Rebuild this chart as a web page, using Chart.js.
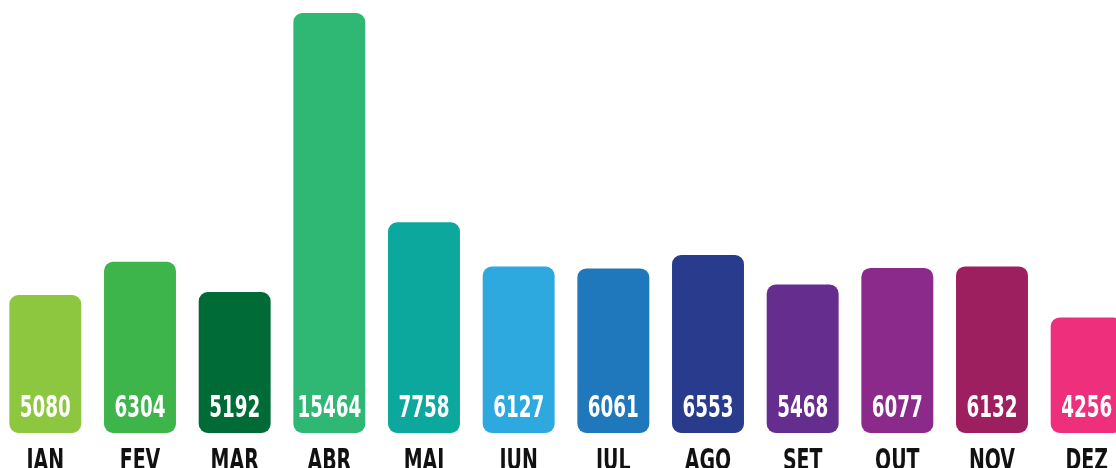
<!DOCTYPE html>
<html>
<head>
<meta charset="utf-8">
<script src="https://cdn.jsdelivr.net/npm/chart.js@4/dist/chart.umd.min.js"></script>
<style>
  html, body { margin: 0; padding: 0; background: #fff; overflow: hidden; }
  #wrap { position: absolute; left: -2px; top: 0; width: 1136px; height: 468px; }
</style>
</head>
<body>
<div id="wrap"><canvas id="chart"></canvas></div>
<script>
const months = ['JAN', 'FEV', 'MAR', 'ABR', 'MAI', 'JUN', 'JUL', 'AGO', 'SET', 'OUT', 'NOV', 'DEZ']
const values = [5080, 6304, 5192, 15464, 7758, 6127, 6061, 6553, 5468, 6077, 6132, 4256]
const colors = ['#8DC63F', '#3DB54A', '#006B37', '#2FB774', '#0DA89D', '#2EA9DF',
                '#1F77BC', '#283B8C', '#652D8E', '#8C2A8C', '#9E1F5F', '#EE307C']

const FONT = '"DejaVu Sans Condensed", "DejaVu Sans", sans-serif'

// squeezed text, the original uses a narrow display face
function narrowText(ctx, txt, x, y, sx) {
  ctx.save()
  ctx.translate(x, y)
  ctx.scale(sx, 1)
  ctx.fillText(txt, 0, 0)
  ctx.restore()
}

// value in white near the foot of each bar + month under it
const barText = {
  id: 'barText',
  afterDatasetsDraw(chart) {
    const { ctx, scales: { y } } = chart
    const base = y.getPixelForValue(0)
    ctx.save()
    ctx.textAlign = 'center'
    ctx.textBaseline = 'alphabetic'
    chart.getDatasetMeta(0).data.forEach((bar, i) => {
      ctx.font = 'bold 30px ' + FONT
      ctx.fillStyle = '#fff'
      narrowText(ctx, String(values[i]), bar.x, base - 16, 0.68)
      ctx.font = 'bold 31px ' + FONT
      ctx.fillStyle = '#111'
      narrowText(ctx, chart.data.labels[i], bar.x, base + 37, 0.68)
    })
    ctx.restore()
  }
}

new Chart(document.getElementById('chart'), {
  type: 'bar',
  data: {
    labels: months,
    datasets: [{ data: values, backgroundColor: colors, borderRadius: 9, borderSkipped: false,
                 categoryPercentage: 1, barPercentage: 0.76 }]
  },
  options: {
    responsive: true,
    maintainAspectRatio: false,
    animation: false,
    layout: { padding: 0 },
    plugins: { legend: { display: false }, tooltip: { enabled: false } },
    scales: {
      x: {
        grid: { display: false, drawTicks: false },
        border: { display: false },
        ticks: { display: false },
        afterFit: (s) => { s.height = 35 }
      },
      y: { display: false, min: 0, max: 15943 }
    }
  },
  plugins: [barText]
})
</script>
</body>
</html>
